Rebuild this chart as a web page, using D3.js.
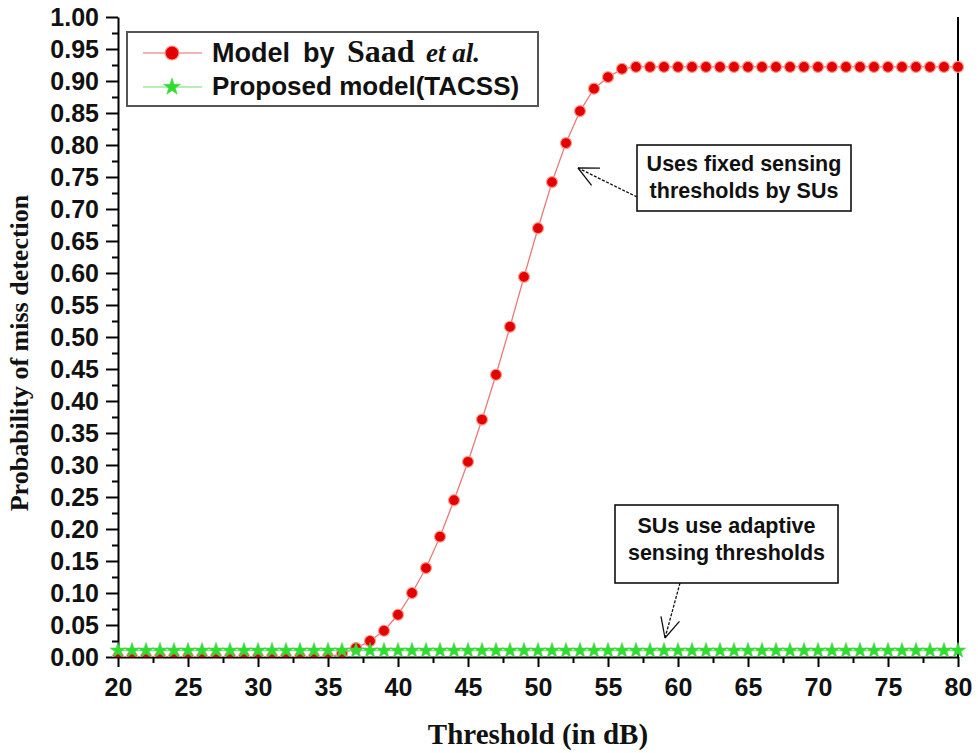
<!DOCTYPE html>
<html>
<head>
<meta charset="utf-8">
<script src="https://cdn.jsdelivr.net/npm/d3@7"></script>
<style>
  html, body { margin: 0; padding: 0; background: #fff; }
  svg { display: block; }
</style>
</head>
<body>
<svg id="chart" width="978" height="753"></svg>
<script>
// ---------------- DATA ----------------
const thresholds = [20,21,22,23,24,25,26,27,28,29,30,31,32,33,34,35,36,37,38,39,40,
  41,42,43,44,45,46,47,48,49,50,51,52,53,54,55,56,57,58,59,60,
  61,62,63,64,65,66,67,68,69,70,71,72,73,74,75,76,77,78,79,80];
const saadValues = [0,0,0,0,0,0,0,0,0,0,0,0,0,0,0,0,0.005,0.014,0.025,0.041,0.066,
  0.100,0.139,0.188,0.245,0.305,0.371,0.441,0.516,0.594,0.670,0.742,0.803,0.853,0.888,0.906,0.919,
  0.922,0.922,0.922,0.922,0.922,0.922,0.922,0.922,0.922,0.922,0.922,0.922,0.922,0.922,0.922,0.922,
  0.922,0.922,0.922,0.922,0.922,0.922,0.922,0.922,0.922];
const tacssValues = [0.01,0.01,0.01,0.01,0.01,0.01,0.01,0.01,0.01,0.01,0.01,0.01,0.01,0.01,0.01,0.01,
  0.01,0.01,0.01,0.01,0.01,0.01,0.01,0.01,0.01,0.01,0.01,0.01,0.01,0.01,0.01,0.01,0.01,0.01,0.01,
  0.01,0.01,0.01,0.01,0.01,0.01,0.01,0.01,0.01,0.01,0.01,0.01,0.01,0.01,0.01,0.01,0.01,0.01,0.01,
  0.01,0.01,0.01,0.01,0.01,0.01,0.01];
const xTickValues = [20,25,30,35,40,45,50,55,60,65,70,75,80];
const yTickValues = [0,0.05,0.10,0.15,0.20,0.25,0.30,0.35,0.40,0.45,0.50,0.55,0.60,0.65,0.70,0.75,0.80,0.85,0.90,0.95,1.00];
const legendWords = ["Model", "by", "Saad", "et al."];
const legendName2 = "Proposed model(TACSS)";
const xTitle = "Threshold (in dB)";
const yTitle = "Probability of miss detection";
const note1 = ["Uses fixed sensing", "thresholds by SUs"];
const note2 = ["SUs use adaptive", "sensing thresholds"];

// ---------------- LAYOUT ----------------
const svg = d3.select("#chart");
const L = 118, R = 958, T = 17, B = 657;
const x = d3.scaleLinear().domain([20, 80]).range([L, R]);
const y = d3.scaleLinear().domain([0, 1]).range([B, T]);
const sans = "'Liberation Sans', Arial, sans-serif";
const serif = "'Liberation Serif', 'Times New Roman', serif";

// minor ticks
const xMinor = d3.range(22.5, 80, 5);
const yMinor = d3.range(0.025, 1, 0.05);

svg.append("g").attr("transform", `translate(0,${B})`)
  .call(d3.axisBottom(x).tickValues(xMinor).tickSize(6).tickFormat(""))
  .call(g => g.select(".domain").remove())
  .selectAll("line").attr("stroke", "#000").attr("stroke-width", 2);
svg.append("g").attr("transform", `translate(${L},0)`)
  .call(d3.axisLeft(y).tickValues(yMinor).tickSize(6).tickFormat(""))
  .call(g => g.select(".domain").remove())
  .selectAll("line").attr("stroke", "#000").attr("stroke-width", 2);

const xAxis = svg.append("g").attr("transform", `translate(0,${B})`)
  .call(d3.axisBottom(x).tickValues(xTickValues).tickSize(10).tickSizeOuter(0).tickPadding(11).tickFormat(d3.format("d")));
xAxis.select(".domain").attr("stroke", "#000").attr("stroke-width", 2);
xAxis.selectAll(".tick line").attr("stroke", "#000").attr("stroke-width", 2);
xAxis.selectAll("text").attr("font-family", sans).attr("font-weight", "bold")
  .attr("font-size", 25).attr("fill", "#111");

const yAxis = svg.append("g").attr("transform", `translate(${L},0)`)
  .call(d3.axisLeft(y).tickValues(yTickValues).tickSize(12).tickSizeOuter(0).tickPadding(7).tickFormat(d3.format(".2f")));
yAxis.select(".domain").attr("stroke", "#000").attr("stroke-width", 2);
yAxis.selectAll(".tick line").attr("stroke", "#000").attr("stroke-width", 2);
yAxis.selectAll("text").attr("font-family", sans).attr("font-weight", "bold")
  .attr("font-size", 25).attr("fill", "#111");

// right frame line
svg.append("line").attr("x1", R).attr("x2", R).attr("y1", T).attr("y2", B)
  .attr("stroke", "#000").attr("stroke-width", 2);

// axis titles
svg.append("text").attr("x", (L + R) / 2).attr("y", 744).attr("text-anchor", "middle")
  .attr("font-family", serif).attr("font-weight", "bold").attr("font-size", 29).attr("fill", "#111")
  .text(xTitle);
svg.append("text").attr("transform", `translate(28,353) rotate(-90)`).attr("text-anchor", "middle")
  .attr("font-family", serif).attr("font-weight", "bold").attr("font-size", 26).attr("fill", "#111")
  .text(yTitle);

// clip
svg.append("clipPath").attr("id", "plotclip").append("rect")
  .attr("x", L - 8).attr("y", T - 8).attr("width", R - L + 16).attr("height", B - T + 8);
const plot = svg.append("g").attr("clip-path", "url(#plotclip)");

const saad = thresholds.map((t, i) => ({ x: t, y: saadValues[i] }));
const tacss = thresholds.map((t, i) => ({ x: t, y: tacssValues[i] }));
const line = d3.line().x(d => x(d.x)).y(d => y(d.y));

plot.append("path").datum(saad).attr("d", line).attr("fill", "none")
  .attr("stroke", "#e87a7a").attr("stroke-width", 1.3);
plot.selectAll("circle.saad").data(saad).join("circle").attr("class", "saad")
  .attr("cx", d => x(d.x)).attr("cy", d => y(d.y)).attr("r", 5.5)
  .attr("fill", "#e30000").attr("stroke", "#ff9a8a").attr("stroke-width", 1.2);

plot.append("path").datum(tacss).attr("d", line).attr("fill", "none")
  .attr("stroke", "#7ee27e").attr("stroke-width", 1.2);
const star = d3.symbol().type(d3.symbolStar).size(75);
plot.selectAll("path.tacss").data(tacss).join("path").attr("class", "tacss")
  .attr("transform", d => `translate(${x(d.x)},${y(d.y)})`)
  .attr("d", star).attr("fill", "#2ee02e").attr("stroke", "#4ccc4c").attr("stroke-width", 0.6);

// legend
const lg = svg.append("g");
lg.append("rect").attr("x", 127).attr("y", 32).attr("width", 411).attr("height", 74)
  .attr("fill", "#fff").attr("stroke", "#555").attr("stroke-width", 2);
lg.append("line").attr("x1", 143).attr("x2", 202).attr("y1", 53).attr("y2", 53)
  .attr("stroke", "#ec9a9a").attr("stroke-width", 1.5);
lg.append("circle").attr("cx", 172).attr("cy", 53).attr("r", 7)
  .attr("fill", "#e30000").attr("stroke", "#ff9a8a").attr("stroke-width", 1.2);
lg.append("line").attr("x1", 143).attr("x2", 202).attr("y1", 87).attr("y2", 87)
  .attr("stroke", "#9de89d").attr("stroke-width", 1.5);
lg.append("path").attr("transform", "translate(172,87)").attr("d", d3.symbol().type(d3.symbolStar).size(90))
  .attr("fill", "#2ee02e").attr("stroke", "#4ccc4c").attr("stroke-width", 0.6);
const t1 = lg.append("text").attr("y", 62).attr("fill", "#111").attr("font-weight", "bold");
t1.append("tspan").attr("x", 212).attr("font-family", sans).attr("font-size", 27).text(legendWords[0]);
t1.append("tspan").attr("x", 303).attr("font-family", sans).attr("font-size", 27).text(legendWords[1]);
t1.append("tspan").attr("x", 347).attr("font-family", serif).attr("font-size", 32).text(legendWords[2]);
t1.append("tspan").attr("x", 426).attr("font-family", serif).attr("font-style", "italic")
  .attr("font-size", 27).text(legendWords[3]);
lg.append("text").attr("x", 212).attr("y", 95).attr("fill", "#111").attr("font-family", sans)
  .attr("font-weight", "bold").attr("font-size", 26).text(legendName2);

// annotations
function arrow(x1, y1, x2, y2) {
  svg.append("line").attr("x1", x1).attr("y1", y1).attr("x2", x2).attr("y2", y2)
    .attr("stroke", "#111").attr("stroke-width", 1.3).attr("stroke-dasharray", "3,1.5");
  const a = Math.atan2(y1 - y2, x1 - x2);
  const len = 22, spread = 0.45;
  [a - spread, a + spread].forEach(b => {
    svg.append("line").attr("x1", x2).attr("y1", y2)
      .attr("x2", x2 + len * Math.cos(b)).attr("y2", y2 + len * Math.sin(b))
      .attr("stroke", "#111").attr("stroke-width", 1.3);
  });
}
function note(bx, by, bw, bh, lines, ys) {
  svg.append("rect").attr("x", bx).attr("y", by).attr("width", bw).attr("height", bh)
    .attr("fill", "#fff").attr("stroke", "#111").attr("stroke-width", 1.6);
  lines.forEach((s, i) => svg.append("text").attr("x", bx + bw / 2).attr("y", ys[i])
    .attr("text-anchor", "middle").attr("font-family", sans).attr("font-weight", "bold")
    .attr("font-size", 21.5).attr("fill", "#111").text(s));
}
arrow(637, 197, 578, 168);
note(637, 145, 214, 66, note1, [171, 198]);
arrow(680, 583, 665, 638);
note(615, 505, 223, 78, note2, [533, 560]);
</script>
</body>
</html>
